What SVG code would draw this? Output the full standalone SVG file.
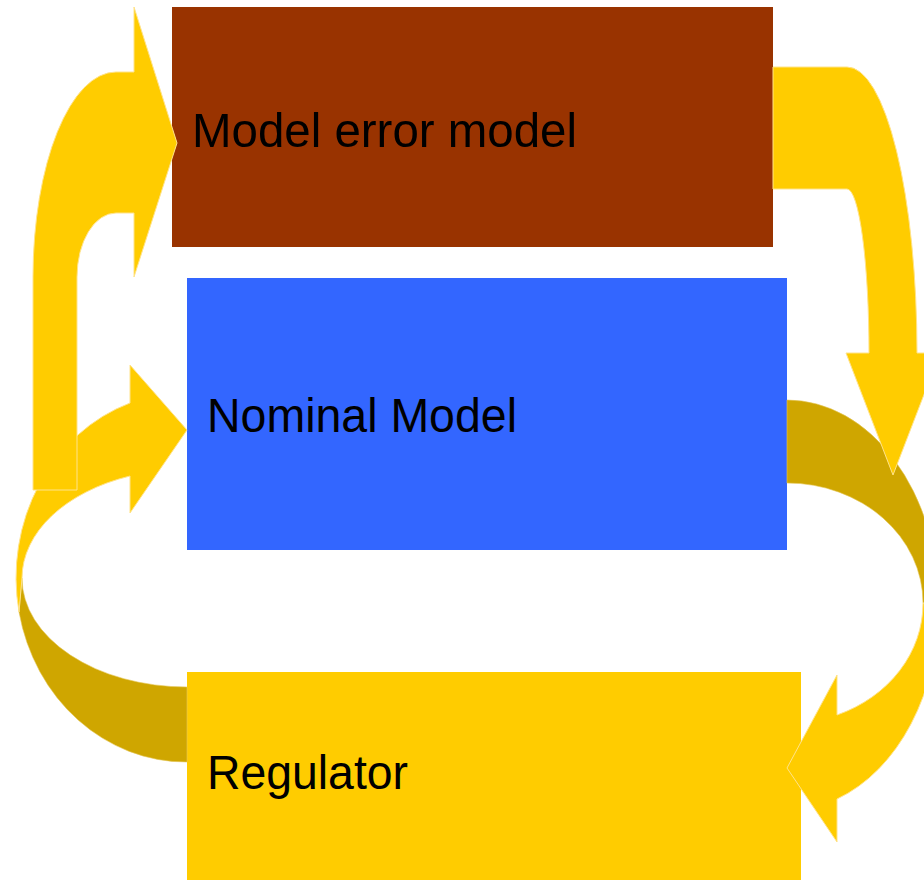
<svg xmlns="http://www.w3.org/2000/svg" width="924" height="880" viewBox="0 0 924 880">
  <style>
    .lbl { font-family: "Liberation Sans", Arial, sans-serif; font-size: 49px; fill: #000000; }
    .arrow { fill: #FFCC00; stroke: #FFE38A; stroke-width: 1; }
    .shade { fill: #CFA600; stroke: #E6C75A; stroke-width: 0.6; }
  </style>
  <rect width="924" height="880" fill="#FFFFFF"/>

  <!-- nodes -->
  <g id="model-error-model">
    <rect x="172" y="7" width="601" height="240" fill="#993300"/>
    <text class="lbl" x="192" y="147" textLength="385" lengthAdjust="spacingAndGlyphs">Model error model</text>
  </g>
  <g id="nominal-model">
    <rect x="187" y="278" width="600" height="272" fill="#3366FF"/>
    <text class="lbl" x="207" y="432" textLength="310" lengthAdjust="spacingAndGlyphs">Nominal Model</text>
  </g>
  <g id="regulator">
    <rect x="187" y="672" width="614" height="208" fill="#FFCC00"/>
    <text class="lbl" x="207" y="789" textLength="201" lengthAdjust="spacingAndGlyphs">Regulator</text>
  </g>

  <!-- connectors: curved block arrows -->
  <g id="connectors">
    <!-- Regulator -> Nominal Model (left loop) -->
    <g id="regulator-to-nominal">
      <path class="shade" d="M19,612 A170,185 0 0 0 187,762 L187,687 A165,109 0 0 1 22,578 Z"/>
      <path class="arrow" d="M130,403 A170,185 0 0 0 19,612 L22,578 A165,109 0 0 1 130,476 L130,513 L187,430 L130,365 Z"/>
    </g>
    <!-- Nominal Model -> Regulator (right loop) -->
    <g id="nominal-to-regulator">
      <path class="shade" d="M787,400 A152,205 0 0 1 939,605 L923,603 A136,120 0 0 0 787,483 Z"/>
      <path class="arrow" d="M939,605 A152,205 0 0 1 837,799 L837,842 L787,768 L837,675 L837,715 A136,120 0 0 0 923,603 Z"/>
    </g>
    <!-- Model error model -> down the right side -->
    <path id="error-out" class="arrow" d="M773,67 L847,67 A70,286 0 0 1 917,353 L940,353 L893,475 L846,353 L869,353 A22,164 0 0 0 847,189 L773,189 Z"/>
    <!-- left side -> Model error model -->
    <path id="error-in" class="arrow" d="M33,490 L33,277 A83,205 0 0 1 116,72 L134,72 L134,7 L177,143 L134,277 L134,213 L116,213 A39,64 0 0 0 77,277 L77,490 Z"/>
  </g>
</svg>
